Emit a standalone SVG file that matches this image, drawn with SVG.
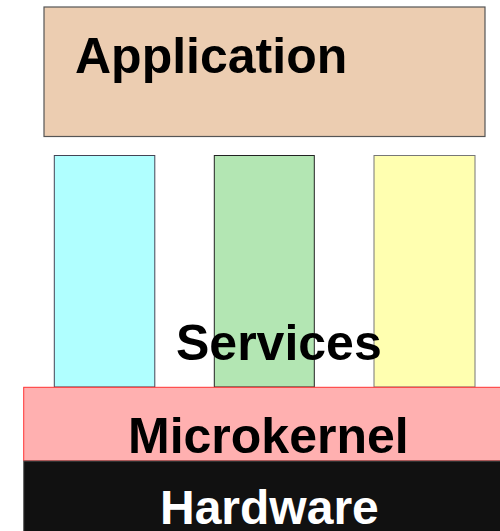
<svg xmlns="http://www.w3.org/2000/svg" width="500" height="531" viewBox="0 0 500 531">
<style>
.t{font-family:"Liberation Sans",Arial,sans-serif;font-weight:bold;font-size:50px;fill:#000}
.col{stroke-width:1}
</style>
<rect width="500" height="531" fill="#fff"/>
<g id="application">
<rect x="44" y="7" width="441" height="129.5" fill="#ECCDB1" stroke="#555" stroke-width="1.2"/>
<text class="t" x="75" y="73">Application</text>
</g>
<g id="service1"><rect class="col" x="54.3" y="155.5" width="100.5" height="231.5" fill="#B0FFFF" stroke="#445"/></g>
<g id="service2"><rect class="col" x="214.3" y="155.5" width="100" height="231.5" fill="#B3E6B3" stroke="#222"/></g>
<g id="service3"><rect class="col" x="374" y="155.5" width="101" height="231.5" fill="#FFFFB0" stroke="#777"/></g>
<g id="services-label"><text class="t" x="176" y="360">Services</text></g>
<g id="microkernel">
<rect x="23.7" y="387.3" width="480" height="73.5" fill="#FFB0B0" stroke="#F33" stroke-width="1"/>
<text class="t" x="128" y="453">Microkernel</text>
</g>
<g id="hardware">
<rect x="23.7" y="461" width="480" height="75" fill="#111" stroke="#555" stroke-width="1"/>
<text class="t" x="160" y="524" style="font-size:48px;fill:#fff">Hardware</text>
</g>
<g id="connectors"/>
</svg>
